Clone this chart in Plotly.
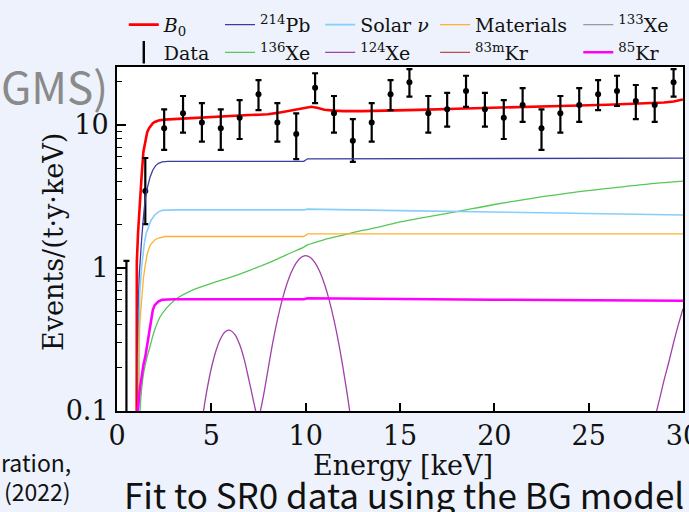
import plotly.graph_objects as go

# ---------------- data ----------------
data_E = [0.5, 1.5, 2.5, 3.5, 4.5, 5.5, 6.5, 7.5, 8.5, 9.5, 10.5, 11.5, 12.5, 13.5, 14.5,
          15.5, 16.5, 17.5, 18.5, 19.5, 20.5, 21.5, 22.5, 23.5, 24.5, 25.5, 26.5, 27.5, 28.5, 29.5]
data_y = [0.02, 3.45, 9.48, 12.07, 10.4, 9.48, 11.25, 16.4, 10.4, 8.65, 18.2, 12.07, 7.77, 10.4, 16.4,
          19.9, 12.07, 12.87, 17.3, 12.87, 11.25, 13.8, 9.48, 12.07, 13.8, 16.4, 17.3, 14.7, 13.8, 19.9]
data_hi = [1.12, 5.88, 12.87, 15.95, 14.2, 12.87, 14.95, 20.6, 14.2, 12.07, 23.0, 15.95, 11.0, 14.2, 20.6,
           24.6, 15.95, 16.8, 22.1, 16.8, 14.95, 18.1, 12.87, 15.95, 18.1, 20.6, 22.1, 19.05, 18.1, 24.6]
data_lo = [0.005, 2.03, 6.69, 8.84, 7.64, 6.69, 7.98, 12.7, 7.64, 5.78, 14.2, 8.84, 5.53, 7.64, 12.7,
           15.8, 8.84, 9.73, 13.4, 9.73, 7.98, 10.5, 6.69, 8.84, 10.5, 12.7, 13.6, 11.0, 10.5, 15.8]

b0_E = [1.04, 1.05, 1.12, 1.16, 1.22, 1.30, 1.40, 1.50, 1.60, 1.70, 1.80, 1.90, 2.0, 2.2, 2.5, 3.0,
        4, 5, 6, 7, 7.5, 8, 8.5, 9, 9.5, 9.9, 10.1, 10.3, 10.6, 11, 11.5, 12, 13, 14, 15, 16, 18,
        20, 22, 24, 26, 28, 28.5, 29, 29.5, 30]
b0_y = [0.03, 1.1, 1.8, 2.3, 3.0, 4.3, 6.5, 7.9, 8.9, 9.5, 9.95, 10.3, 10.5, 10.75, 10.9, 11.0,
        11.2, 11.4, 11.65, 11.75, 11.8, 11.9, 12.15, 12.5, 12.85, 13.1, 13.4, 13.4, 13.2, 12.8, 12.6, 12.5, 12.5, 12.55, 12.65, 12.75, 13.0,
        13.25, 13.45, 13.65, 13.85, 14.1, 14.2, 14.35, 14.6, 15.1]

pb214_E = [1.10, 1.12, 1.18, 1.22, 1.30, 1.40, 1.49, 1.60, 1.76, 1.90, 2.05, 2.2, 2.4, 2.7, 3.0, 6, 9.9, 10.1, 15, 20, 25, 30]
pb214_y = [0.03, 0.5, 0.9, 1.15, 1.55, 2.25, 3.0, 3.6, 4.35, 4.85, 5.2, 5.4, 5.52, 5.56, 5.57, 5.57, 5.57, 5.8, 5.82, 5.84, 5.85, 5.86]

solar_E = [1.14, 1.16, 1.20, 1.30, 1.35, 1.45, 1.55, 1.67, 1.80, 2.0, 2.2, 2.4, 2.7, 3.0, 9.9, 10.1, 15, 20, 25, 30]
solar_y = [0.03, 0.4, 0.65, 1.0, 1.2, 1.5, 1.75, 1.95, 2.15, 2.35, 2.47, 2.53, 2.55, 2.55, 2.55, 2.58, 2.52, 2.47, 2.41, 2.35]

mat_E = [1.12, 1.14, 1.20, 1.30, 1.40, 1.50, 1.60, 1.70, 1.80, 2.0, 2.2, 2.55, 3.0, 9.9, 10.1, 30]
mat_y = [0.03, 0.25, 0.4, 0.62, 0.85, 1.05, 1.25, 1.38, 1.47, 1.57, 1.62, 1.66, 1.66, 1.66, 1.73, 1.73]

xe136_E = [1.20, 1.22, 1.30, 1.40, 1.50, 1.60, 1.70, 1.80, 2.0, 2.29, 2.6, 3.08, 4, 5, 6, 7, 8, 9, 9.9, 10.1,
           11, 12, 13, 14, 15, 16, 18, 20, 22, 24, 26, 28, 30]
xe136_y = [0.03, 0.1, 0.14, 0.18, 0.21, 0.24, 0.267, 0.30, 0.37, 0.456, 0.52, 0.6, 0.70, 0.78, 0.86, 0.96, 1.08, 1.24, 1.40, 1.45,
           1.58, 1.70, 1.83, 1.95, 2.10, 2.22, 2.48, 2.78, 3.07, 3.35, 3.60, 3.85, 4.05]

xe124_E = [4.4, 4.5, 4.75, 5.0, 5.25, 5.5, 5.75, 5.93, 6.0, 6.25, 6.5, 6.75, 7.0, 7.25, 7.35, 7.47, 7.6, 7.75,
           8.0, 8.25, 8.5, 8.75, 9.0, 9.25, 9.5, 9.75, 10.0, 10.25, 10.5, 10.75, 11.0, 11.25, 11.5, 11.75,
           12.0, 12.25, 12.5, 12.6, 20.0, 28.4, 28.5, 28.75, 29.0, 29.25, 29.5, 29.75, 30.0]
xe124_y = [0.07, 0.085, 0.136, 0.199, 0.265, 0.323, 0.36, 0.368, 0.367, 0.342, 0.292, 0.228, 0.163, 0.115, 0.1, 0.085, 0.1, 0.125,
           0.193, 0.298, 0.433, 0.594, 0.769, 0.941, 1.086, 1.184, 1.22, 1.184, 1.086, 0.941, 0.769, 0.594, 0.433, 0.298,
           0.193, 0.119, 0.069, 0.055, None, 0.075, 0.088, 0.12, 0.165, 0.22, 0.30, 0.40, 0.52]

kr85_E = [1.08, 1.10, 1.2, 1.3, 1.4, 1.5, 1.58, 1.7, 1.81, 1.9, 2.0, 2.2, 2.4, 3.0, 9.9, 10.1, 20, 30]
kr85_y = [0.03, 0.1, 0.14, 0.175, 0.21, 0.24, 0.28, 0.37, 0.456, 0.51, 0.55, 0.585, 0.60, 0.605, 0.605, 0.615, 0.60, 0.59]

# components that are zero inside 0-30 keV (legend only)
xe133_E, xe133_y = [None], [None]
kr83m_E, kr83m_y = [None], [None]

SERIF = "DejaVu Serif"
SANS = "Noto Sans CJK JP"

fig = go.Figure()

def line(x, y, name, color, width, legend, shape="linear"):
    fig.add_trace(go.Scatter(x=x, y=y, mode="lines", name=name, legend=legend,
                             line=dict(color=color, width=width, shape=shape, smoothing=0.8),
                             connectgaps=False))

# column 1
line(b0_E, b0_y, "<i>B</i><sub>0</sub>", "#ff0000", 2.6, "legend")
fig.add_trace(go.Scatter(
    x=data_E, y=data_y, mode="markers", name="Data", showlegend=False,
    marker=dict(color="black", size=6),
    error_y=dict(type="data", symmetric=False,
                 array=[h - v for h, v in zip(data_hi, data_y)],
                 arrayminus=[v - l for v, l in zip(data_y, data_lo)],
                 color="black", thickness=2.2, width=3)))
fig.add_trace(go.Scatter(x=[None], y=[None], mode="markers", name="Data", legend="legend",
                         marker=dict(symbol="line-ns-open", size=16, color="black",
                                     line=dict(color="black", width=2.4))))
# column 2
line(pb214_E, pb214_y, "<sup>214</sup>Pb", "#3c3ca0", 1.3, "legend2")
line(xe136_E, xe136_y, "<sup>136</sup>Xe", "#55c855", 1.3, "legend2", shape="spline")
# column 3
line(solar_E, solar_y, "Solar <i>ν</i>", "#87cefa", 1.6, "legend3")
line(xe124_E, xe124_y, "<sup>124</sup>Xe", "#a040a8", 1.3, "legend3", shape="spline")
# column 4
line(mat_E, mat_y, "Materials", "#ffb030", 1.3, "legend4")
line(kr83m_E, kr83m_y, "<sup>83m</sup>Kr", "#b85050", 1.3, "legend4")
# column 5
line(xe133_E, xe133_y, "<sup>133</sup>Xe", "#999999", 1.3, "legend5")
line(kr85_E, kr85_y, "<sup>85</sup>Kr", "#ff00ff", 2.6, "legend5")

LEGFONT = dict(family=SERIF, size=19, color="#111")

def leg(xp):
    return dict(x=xp, y=1.178, xanchor="left", yanchor="top", orientation="v",
                bgcolor="rgba(0,0,0,0)", font=LEGFONT,
                tracegroupgap=0, itemwidth=30, borderwidth=0)

W, H = 689, 512
L, R, T, B = 117, 6, 67, 101

fig.update_layout(
    width=W, height=H,
    margin=dict(l=L, r=R, t=T, b=B, autoexpand=False),
    font=dict(family=SERIF, size=19, color="#111"),
    paper_bgcolor="#edf2fc", plot_bgcolor="white",
    legend=leg(0.012), legend2=leg(0.182), legend3=leg(0.359),
    legend4=leg(0.562), legend5=leg(0.815),
)

fig.update_xaxes(range=[0, 30], tick0=0, dtick=5, ticks="inside", ticklen=8, tickwidth=1.5,
                 tickcolor="black", showline=True, linecolor="black", linewidth=2, mirror=True,
                 showgrid=False, zeroline=False, ticklabeloverflow="allow", ticklabelstandoff=0,
                 automargin=False,
                 tickfont=dict(family=SERIF, size=27, color="#111"))
fig.update_yaxes(type="log", range=[-1, 1.4056], dtick=1, ticks="inside", ticklen=9, tickwidth=1.5,
                 tickcolor="black", showline=True, linecolor="black", linewidth=2, mirror=True,
                 showgrid=False, zeroline=False, ticklabeloverflow="allow", ticklabelstandoff=1,
                 automargin=False,
                 minor=dict(ticks="inside", ticklen=5, tickwidth=1.2, tickcolor="black", dtick="D1", showgrid=False),
                 tickfont=dict(family=SERIF, size=27, color="#111"))

def px_x(p):
    return (p - L) / (W - L - R)

def px_y(p):
    return (H - B - p) / (H - T - B)

# axis titles
fig.add_annotation(text="Energy [keV]", xref="paper", yref="paper", x=px_x(403), y=px_y(465),
                   xanchor="center", yanchor="middle", showarrow=False,
                   font=dict(family=SERIF, size=27, color="#111"))
fig.add_annotation(text="Events/(t·y·keV)", xref="paper", yref="paper", x=px_x(53), y=px_y(242),
                   xanchor="center", yanchor="middle", showarrow=False, textangle=-90,
                   font=dict(family=SERIF, size=27, color="#111"))

# slide fragments around the chart
fig.add_annotation(text="GMS)", xref="paper", yref="paper", x=px_x(110), y=px_y(85),
                   xanchor="right", yanchor="middle", showarrow=False,
                   font=dict(family=SANS, size=44, color="#8a8a8a"))
fig.add_annotation(text="ration,", xref="paper", yref="paper", x=px_x(73), y=px_y(462),
                   xanchor="right", yanchor="middle", showarrow=False,
                   font=dict(family=SANS, size=23, color="#111"))
fig.add_annotation(text="(2022)", xref="paper", yref="paper", x=px_x(73), y=px_y(491),
                   xanchor="right", yanchor="middle", showarrow=False,
                   font=dict(family=SANS, size=23, color="#111"))
fig.add_annotation(text="Fit to SR0 data using the BG model", xref="paper", yref="paper",
                   x=px_x(122), y=px_y(493), xanchor="left", yanchor="middle", showarrow=False,
                   font=dict(family=SANS, size=35, color="#111"))

fig.write_html("out.html")
